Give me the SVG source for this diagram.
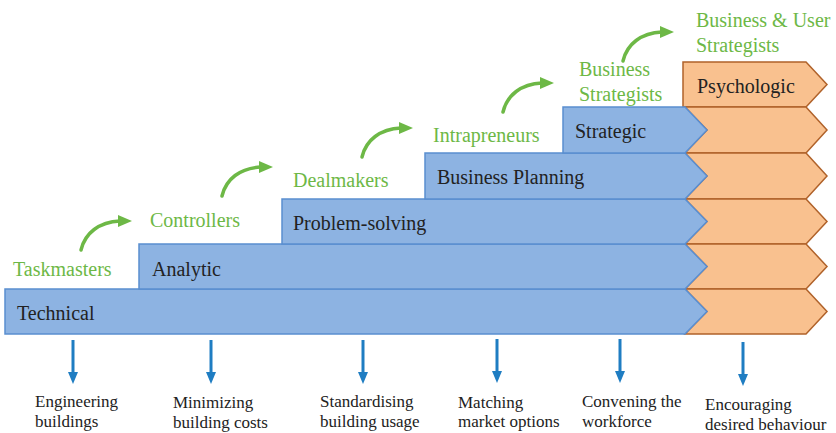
<svg xmlns="http://www.w3.org/2000/svg" width="836" height="433" viewBox="0 0 836 433">
<style>
.blue{fill:#8DB3E2;stroke:#5A8ED0;stroke-width:1.5;stroke-linejoin:miter}
.org{fill:#F9C18F;stroke:#B0622A;stroke-width:1.5;stroke-linejoin:miter}
.lbl{font-family:"Liberation Serif","Times New Roman",serif;font-size:20px;fill:#222}
.grn{font-family:"Liberation Serif","Times New Roman",serif;font-size:20px;fill:#6DB846}
.out{font-family:"Liberation Serif","Times New Roman",serif;font-size:17px;fill:#222}
.ga{fill:none;stroke:#6DB846;stroke-width:3.5;stroke-linecap:round}
.gh{fill:#6DB846}
.ba{stroke:#1F7DC2;stroke-width:3}
.bh{fill:#1F7DC2}
</style>
<defs>
<g id="garrow">
<path class="ga" d="M0,0 C4,-17 18,-28 39,-29"/>
<polygon class="gh" points="37,-35 51,-29 37,-23"/>
</g>
<g id="barrow">
<line class="ba" x1="0" y1="0" x2="0" y2="33"/>
<polygon class="bh" points="-5,32 5,32 0,44"/>
</g>
</defs>
<rect width="836" height="433" fill="#fff"/>
<g id="psychologic-column">
<path class="org" d="M683,62 H806 L827,84.5 L806,107 H683 Z"/>
<path class="org" d="M685,107 H806 L827,130 L806,153 H685 L707,130 Z"/>
<path class="org" d="M685,153 H806 L827,176 L806,199 H685 L707,176 Z"/>
<path class="org" d="M685,199 H806 L827,221.5 L806,244 H685 L707,221.5 Z"/>
<path class="org" d="M685,244 H806 L827,266.5 L806,289 H685 L707,266.5 Z"/>
<path class="org" d="M685,289 H806 L827,311.5 L806,334 H685 L707,311.5 Z"/>
<text class="lbl" x="697" y="93">Psychologic</text>
</g>
<g id="technical">
<path class="blue" d="M5,289 H685 L707,311.5 L685,334 H5 Z"/>
<text class="lbl" x="17" y="320">Technical</text>
</g>
<g id="analytic">
<path class="blue" d="M139,244 H685 L707,266.5 L685,289 H139 Z"/>
<text class="lbl" x="152" y="276">Analytic</text>
</g>
<g id="problem-solving">
<path class="blue" d="M282,199 H685 L707,221.5 L685,244 H282 Z"/>
<text class="lbl" x="293" y="230">Problem-solving</text>
</g>
<g id="business-planning">
<path class="blue" d="M425,153 H685 L707,176 L685,199 H425 Z"/>
<text class="lbl" x="437" y="184">Business Planning</text>
</g>
<g id="strategic">
<path class="blue" d="M563,107 H685 L707,130 L685,153 H563 Z"/>
<text class="lbl" x="575" y="138">Strategic</text>
</g>
<g id="roles">
<text class="grn" x="13" y="276">Taskmasters</text>
<text class="grn" x="150" y="227">Controllers</text>
<text class="grn" x="293" y="187">Dealmakers</text>
<text class="grn" x="433" y="142">Intrapreneurs</text>
<text class="grn" x="579" y="76">Business</text>
<text class="grn" x="579" y="101">Strategists</text>
<text class="grn" x="696" y="27">Business &amp; User</text>
<text class="grn" x="696" y="52">Strategists</text>
</g>
<g id="outcomes">
<text class="out" x="35" y="407">Engineering</text>
<text class="out" x="35" y="427">buildings</text>
<text class="out" x="173" y="408">Minimizing</text>
<text class="out" x="173" y="428">building costs</text>
<text class="out" x="320" y="407">Standardising</text>
<text class="out" x="320" y="427">building usage</text>
<text class="out" x="458" y="408">Matching</text>
<text class="out" x="458" y="427">market options</text>
<text class="out" x="582" y="407">Convening the</text>
<text class="out" x="582" y="427">workforce</text>
<text class="out" x="705" y="410">Encouraging</text>
<text class="out" x="705" y="430">desired behaviour</text>
</g>
<g id="connectors">
<use href="#garrow" x="81" y="250"/>
<use href="#garrow" x="222" y="196"/>
<use href="#garrow" x="362" y="157"/>
<use href="#garrow" x="503" y="112"/>
<use href="#garrow" x="623" y="61"/>
<use href="#barrow" x="73" y="340"/>
<use href="#barrow" x="211" y="340"/>
<use href="#barrow" x="363" y="340"/>
<use href="#barrow" x="497" y="339"/>
<use href="#barrow" x="620" y="339"/>
<use href="#barrow" x="743" y="342"/>
</g>
</svg>
